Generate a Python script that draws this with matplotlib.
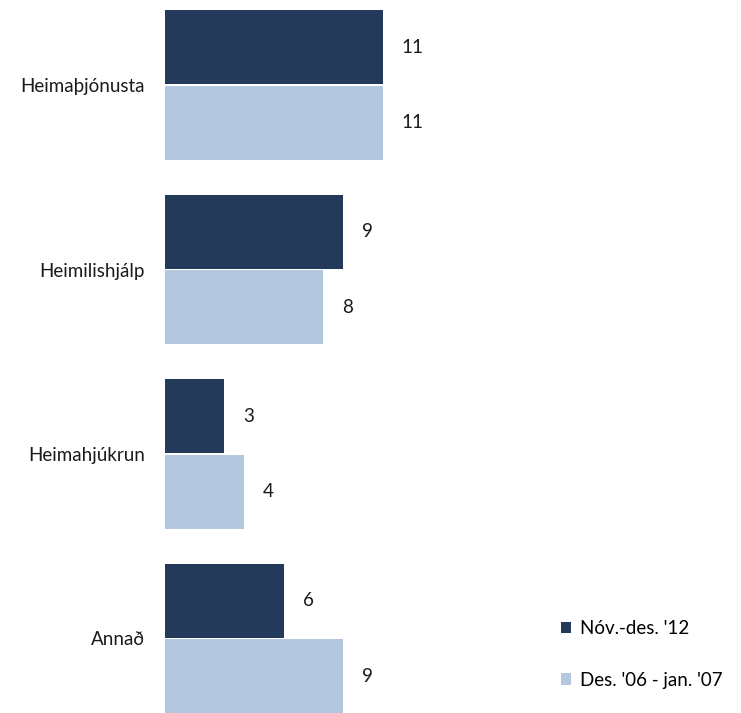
import matplotlib
matplotlib.use("Agg")
import matplotlib.pyplot as plt
import numpy as np

plt.rcParams['font.family'] = ['Lato', 'DejaVu Sans']

categories = ['Heimaþjónusta', 'Heimilishjálp', 'Heimahjúkrun', 'Annað']
nov_des_12 = [11, 9, 3, 6]
des06_jan07 = [11, 8, 4, 9]
series_names = ["Nóv.-des. '12", "Des. '06 - jan. '07"]
colors = ['#243a5a', '#b3c7e0']

fig = plt.figure(figsize=(7.41, 7.13), dpi=100)
ax = fig.add_axes([165 / 741, 0, 495 / 741, 1])

y = np.arange(len(categories))
h = 0.41
b1 = ax.barh(y - h / 2, nov_des_12, height=h - 0.01, color=colors[0], label=series_names[0])
b2 = ax.barh(y + h / 2, des06_jan07, height=h - 0.01, color=colors[1], label=series_names[1])

for bars in (b1, b2):
    for rect in bars:
        w = rect.get_width()
        ax.annotate(f'{w:g}', (w, rect.get_y() + rect.get_height() / 2),
                    xytext=(19, 0), textcoords='offset pixels', ha='left', va='center',
                    fontsize=13.5, color='#1a1a1a')

ax.set_xlim(0, 25)
ax.set_ylim(3.404, -0.461)
ax.set_yticks(y)
ax.set_yticklabels(categories, fontsize=13.5, color='#1a1a1a')
ax.tick_params(axis='y', length=0, pad=14.5)
ax.set_xticks([])
for s in ax.spines.values():
    s.set_visible(False)

fig.legend(handles=[b1, b2], loc='lower left', bbox_to_anchor=(546 / 741, 0.013),
           frameon=False, fontsize=13.5, handlelength=0.55, handleheight=0.55,
           handletextpad=0.45, labelspacing=1.85, borderpad=0.3)

fig.savefig('out.png', dpi=100)
